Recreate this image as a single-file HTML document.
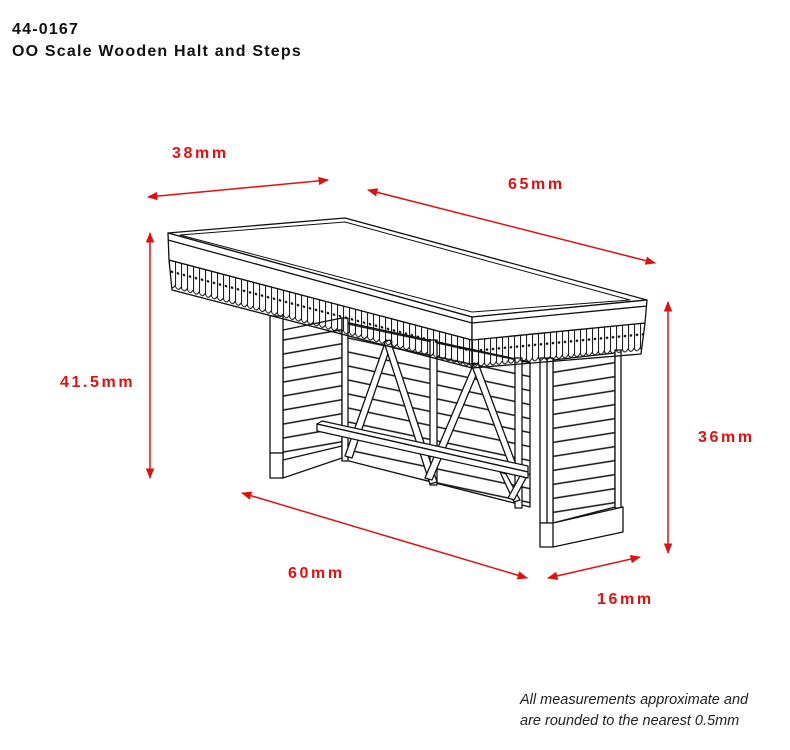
<!DOCTYPE html>
<html><head><meta charset="utf-8"><style>
body{margin:0;background:#fff;width:790px;height:750px;overflow:hidden;font-family:"Liberation Sans",sans-serif}
.t{position:absolute;left:12px;font-weight:bold;font-size:16px;color:#111;letter-spacing:1.2px}
.m{position:absolute;color:#e01010;font-weight:bold;font-size:16px;letter-spacing:2.6px}
.n{position:absolute;left:520px;font-style:italic;font-size:14.5px;color:#222}
</style></head><body>
<div class="t" style="top:21px">44-0167</div>
<div class="t" style="top:43px">OO Scale Wooden Halt and Steps</div>
<div class="m" style="left:172px;top:145px">38mm</div>
<div class="m" style="left:508px;top:176px">65mm</div>
<div class="m" style="left:60px;top:374px">41.5mm</div>
<div class="m" style="left:698px;top:429px">36mm</div>
<div class="m" style="left:288px;top:565px">60mm</div>
<div class="m" style="left:597px;top:591px">16mm</div>
<div class="n" style="top:692px">All measurements approximate and</div>
<div class="n" style="top:713px">are rounded to the nearest 0.5mm</div>
<svg width="790" height="750" style="position:absolute;left:0;top:0" xmlns="http://www.w3.org/2000/svg">
<defs>
<marker id="a" viewBox="0 0 10 10" refX="9" refY="5" markerWidth="7" markerHeight="7" orient="auto-start-reverse"><path d="M0,1 L10,5 L0,9 z" fill="#e01010"/></marker>
<pattern id="pl" width="60" height="14" patternUnits="userSpaceOnUse" patternTransform="skewY(-10)"><line x1="0" y1="12" x2="60" y2="12" stroke="#111" stroke-width="1.4"/></pattern>
<pattern id="pb" width="60" height="14" patternUnits="userSpaceOnUse" patternTransform="skewY(12)"><line x1="0" y1="12" x2="60" y2="12" stroke="#111" stroke-width="1.4"/></pattern>
<pattern id="pr" width="60" height="14" patternUnits="userSpaceOnUse" patternTransform="skewY(-9)"><line x1="0" y1="12" x2="60" y2="12" stroke="#111" stroke-width="1.4"/></pattern>
<pattern id="v1" width="6" height="60" patternUnits="userSpaceOnUse" patternTransform="translate(169,260) skewY(14.8)"><line x1="0.5" y1="0" x2="0.5" y2="25" stroke="#111" stroke-width="1"/><circle cx="3" cy="11" r="1.3" fill="#111"/><path d="M0,24 Q3,30 6,24" fill="none" stroke="#111" stroke-width="1"/></pattern>
<pattern id="v2" width="6" height="60" patternUnits="userSpaceOnUse" patternTransform="translate(472,340) skewY(-5.6)"><line x1="0.5" y1="0" x2="0.5" y2="25" stroke="#111" stroke-width="1"/><circle cx="3" cy="11" r="1.3" fill="#111"/><path d="M0,24 Q3,30 6,24" fill="none" stroke="#111" stroke-width="1"/></pattern>
</defs>
<g stroke="#e01010" stroke-width="1.5" fill="none" marker-start="url(#a)" marker-end="url(#a)">
<line x1="148" y1="197" x2="328" y2="180"/>
<line x1="368" y1="190" x2="655" y2="263"/>
<line x1="150" y1="233" x2="150" y2="478"/>
<line x1="668" y1="302" x2="668" y2="553"/>
<line x1="242" y1="493" x2="527" y2="578"/>
<line x1="548" y1="578" x2="640" y2="557"/>
</g>
<g stroke="#111" stroke-width="1.3" stroke-linejoin="round">
<polygon points="345,322 530,362 530,507 345,460" fill="url(#pb)"/>
<polygon points="283,330 342,318 342,458 283,473" fill="url(#pl)"/>
<rect x="270" y="316" width="13" height="137" fill="#fff"/>
<polygon points="270,453 283,453 283,478 270,478" fill="#fff"/>
<polygon points="283,460 342,446 342,458 283,478" fill="#fff"/>
<rect x="342" y="318" width="6" height="143" fill="#fff"/>
<rect x="430" y="340" width="7" height="145" fill="#fff"/>
<rect x="515" y="358" width="7" height="150" fill="#fff"/>
<g fill="#fff">
<polygon points="386,340 392,342 352,458 345,456"/>
<polygon points="384,342 390,340 437,482 430,484"/>
<polygon points="474,363 480,366 432,480 425,478"/>
<polygon points="472,366 478,363 518,470 512,472"/>
</g>
<polygon points="317,424 322,421 528,466 528,472" fill="#fff"/>
<polygon points="317,424 528,472 528,478 317,431" fill="#fff"/>
<polygon points="500,472 506,474 520,500 514,502" fill="#fff"/>
<polygon points="520,476 526,478 514,500 508,498" fill="#fff"/>
<polygon points="553,360 615,353 615,507 553,523" fill="url(#pr)"/>
<rect x="540" y="358" width="13" height="165" fill="#fff"/>
<line x1="547" y1="358" x2="547" y2="523"/>
<rect x="615" y="350" width="6" height="158" fill="#fff"/>
<polygon points="540,523 553,523 623,507 623,532 553,547 540,547" fill="#fff"/>
<line x1="553" y1="523" x2="553" y2="547"/>
<polygon points="169,260 472,340 472,368 172,290" fill="url(#v1)"/>
<polygon points="472,340 645,323 641,354 472,368" fill="url(#v2)"/>
<polygon points="168,233 345,218 647,300 472,317" fill="#fff"/>
<polygon points="180,235 345,222 630,300 472,312" fill="none" stroke-width="1"/>
<polygon points="168,233 472,317 472,340 169,260" fill="#fff"/>
<polygon points="472,317 647,300 645,323 472,340" fill="#fff"/>
<line x1="168" y1="240" x2="472" y2="323"/><line x1="472" y1="323" x2="647" y2="306"/>
</g>
</svg>
</body></html>
